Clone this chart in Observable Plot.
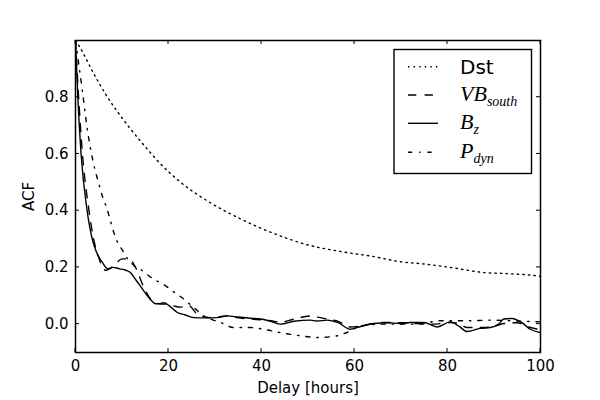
<!DOCTYPE html>
<html><head><meta charset="utf-8">
<script src="https://cdn.jsdelivr.net/npm/d3@7"></script>
<script src="https://cdn.jsdelivr.net/npm/@observablehq/plot@0.6"></script>
<style>body{margin:0;background:#fff} #chart{width:600px;height:400px}</style>
</head><body><div id="chart"></div>
<script>
// ---- data ----
const dstHours  = [0, 0.8, 3.7, 6.5, 10.1, 14.3, 18.3, 22.6, 28.3, 35.5, 42.6, 49.8, 57, 64.2, 69.5, 75, 80.6, 87.8, 93, 99.3, 100];
const dstValues = [1.0, 0.98, 0.89, 0.81, 0.725, 0.639, 0.565, 0.5, 0.435, 0.371, 0.32, 0.28, 0.256, 0.238, 0.221, 0.212, 0.2, 0.182, 0.178, 0.17, 0.168];

const vbHours  = [0, 0.6, 1.4, 2.9, 3.9, 4.9, 5.8, 6.5, 7.2, 8.5, 10, 11.5, 12.9, 14.7, 16.5, 18, 19.7, 21, 22.5, 24.4, 26.2, 29, 32.6, 35, 37.6, 40, 42, 44.1, 47, 50.5, 52, 54.1, 56.5, 59.1, 62.7, 66.3, 70, 73.5, 77, 80.6, 82.5, 84.2, 87.8, 90, 92.1, 95, 97.5, 100];
const vbValues = [1.0, 0.82, 0.62, 0.4, 0.3, 0.24, 0.2, 0.19, 0.194, 0.21, 0.23, 0.23, 0.2, 0.13, 0.082, 0.072, 0.07, 0.065, 0.06, 0.065, 0.035, 0.023, 0.029, 0.022, 0.018, 0.015, 0.012, 0.007, 0.018, 0.029, 0.025, 0.018, 0.01, -0.01, -0.002, 0.006, 0.005, 0.002, 0.0, 0.006, 0.002, -0.012, -0.012, -0.008, 0.002, 0.005, -0.01, -0.02];

const bzHours  = [0, 0.5, 1.2, 2.5, 3.6, 4.6, 5.8, 6.9, 8, 9.5, 10.8, 11.8, 12.8, 13.7, 15, 16.2, 17.2, 18, 19, 20.5, 21.9, 23.5, 25.4, 28, 30.5, 32.6, 35, 37.6, 39.8, 42, 44.1, 47, 50.5, 52, 54.1, 56.5, 59.1, 61, 64.2, 67, 69.9, 72, 74.9, 77.8, 80.6, 82.5, 84.2, 87, 89.2, 91, 92.1, 93.9, 96, 97.8, 100];
const bzValues = [1.0, 0.8, 0.6, 0.4, 0.3, 0.25, 0.217, 0.195, 0.2, 0.195, 0.19, 0.182, 0.16, 0.14, 0.11, 0.085, 0.072, 0.072, 0.076, 0.06, 0.041, 0.033, 0.023, 0.022, 0.023, 0.029, 0.025, 0.021, 0.018, 0.01, 0.0, 0.01, 0.014, 0.011, 0.014, 0.005, -0.018, -0.01, 0.002, 0.005, 0.002, 0.006, 0.006, -0.01, 0.008, -0.008, -0.026, -0.015, -0.012, 0.0, 0.018, 0.02, 0.005, -0.018, -0.03];

const pdynHours  = [0, 1.5, 2.6, 3.7, 5.1, 5.8, 6.5, 7.6, 8.3, 9.0, 10.1, 11.2, 12.6, 14.4, 16.2, 19.4, 21, 23, 25.4, 27.6, 29.5, 31.2, 34, 37.6, 41, 44.1, 48.4, 52, 56.3, 59.1, 61.3, 66.3, 73.5, 78.5, 84.2, 89.2, 95, 100];
const pdynValues = [1.0, 0.82, 0.68, 0.58, 0.49, 0.45, 0.42, 0.36, 0.32, 0.29, 0.26, 0.23, 0.206, 0.188, 0.165, 0.135, 0.115, 0.092, 0.059, 0.029, 0.015, 0.006, -0.012, -0.012, -0.02, -0.03, -0.041, -0.047, -0.041, -0.024, -0.006, 0.0, 0.0, 0.012, 0.012, 0.014, 0.011, 0.008];

const xTicks = [0, 20, 40, 60, 80, 100];
const yTicks = [0.0, 0.2, 0.4, 0.6, 0.8];
const xLabel = "Delay [hours]";
const yLabel = "ACF";

// ---- styles ----
const lw = 1.4;
const dashDst = "1.4,4.2", dashVB = "8.3,8.3", dashBz = null, dashPdyn = "4.2,6.9,1.4,6.9";

function rows(hs, vs) { return hs.map((h, i) => ({hour: h, acf: vs[i]})); }
function lineMark(hs, vs, dash) {
  return Plot.line(rows(hs, vs), {x: "hour", y: "acf", stroke: "black", strokeWidth: lw,
    strokeDasharray: dash, curve: "monotone-x", clip: true});
}

const plot = Plot.plot({
  width: 600, height: 400,
  marginLeft: 75, marginRight: 60, marginTop: 40, marginBottom: 48,
  style: {fontFamily: "'DejaVu Sans', sans-serif", fontSize: "15px", color: "#000", background: "#fff"},
  x: {domain: [0, 100]},
  y: {domain: [-0.1, 1.0]},
  marks: [
    lineMark(dstHours, dstValues, dashDst),
    lineMark(vbHours, vbValues, dashVB),
    lineMark(bzHours, bzValues, dashBz),
    lineMark(pdynHours, pdynValues, dashPdyn),
    Plot.axisX(xTicks, {tickSize: 0, tickPadding: 8, tickFormat: d => String(d),
      label: xLabel, labelAnchor: "center", labelOffset: 40, labelArrow: "none"}),
    Plot.axisY(yTicks, {tickSize: 0, tickPadding: 7, tickFormat: d3.format(".1f"),
      label: yLabel, labelAnchor: "center", labelOffset: 52, labelArrow: "none"}),
    Plot.frame({stroke: "black", strokeWidth: 1.5})
  ]
});
document.getElementById("chart").appendChild(plot);

// inward ticks on all four sides, positioned through Plot's scales
const sx = plot.scale("x"), sy = plot.scale("y");
const svg = d3.select(plot);
const [xl, xr] = sx.range, [yb, yt] = sy.range;
const tg = svg.append("g").attr("stroke", "black").attr("stroke-width", 1);
const tl = 4;
xTicks.forEach(t => {
  const px = sx.apply(t);
  tg.append("line").attr("x1", px).attr("x2", px).attr("y1", yb).attr("y2", yb - tl);
  tg.append("line").attr("x1", px).attr("x2", px).attr("y1", yt).attr("y2", yt + tl);
});
yTicks.forEach(t => {
  const py = sy.apply(t);
  tg.append("line").attr("y1", py).attr("y2", py).attr("x1", xl).attr("x2", xl + tl);
  tg.append("line").attr("y1", py).attr("y2", py).attr("x1", xr).attr("x2", xr - tl);
});

// legend (upper right, inside the axes)
const lg = svg.append("g").attr("text-anchor", "start");
lg.append("rect").attr("x", 394).attr("y", 49.5).attr("width", 137.5).attr("height", 124)
  .attr("fill", "white").attr("stroke", "black").attr("stroke-width", 1.4);
const entries = [
  {dash: dashDst, y: 66.7},
  {dash: dashVB, y: 95},
  {dash: dashBz, y: 123.3},
  {dash: dashPdyn, y: 152.3}
];
entries.forEach(e => {
  lg.append("line").attr("x1", 408).attr("x2", 438).attr("y1", e.y).attr("y2", e.y)
    .attr("stroke", "black").attr("stroke-width", lw).attr("stroke-dasharray", e.dash);
});
lg.append("text").attr("x", 460).attr("y", 73.7).attr("text-anchor", "start")
  .attr("font-family", "'DejaVu Sans', sans-serif").attr("font-size", 20).text("Dst");
function mathText(y, main, sub) {
  const t = lg.append("text").attr("x", 460).attr("y", y).attr("text-anchor", "start")
    .attr("font-family", "'Liberation Serif', serif").attr("font-style", "italic").attr("font-size", 22);
  t.append("tspan").text(main);
  t.append("tspan").attr("font-size", 14).attr("dy", 5).text(sub);
}
mathText(100.5, "VB", "south");
mathText(129, "B", "z");
mathText(158, "P", "dyn");
</script>
</body></html>
